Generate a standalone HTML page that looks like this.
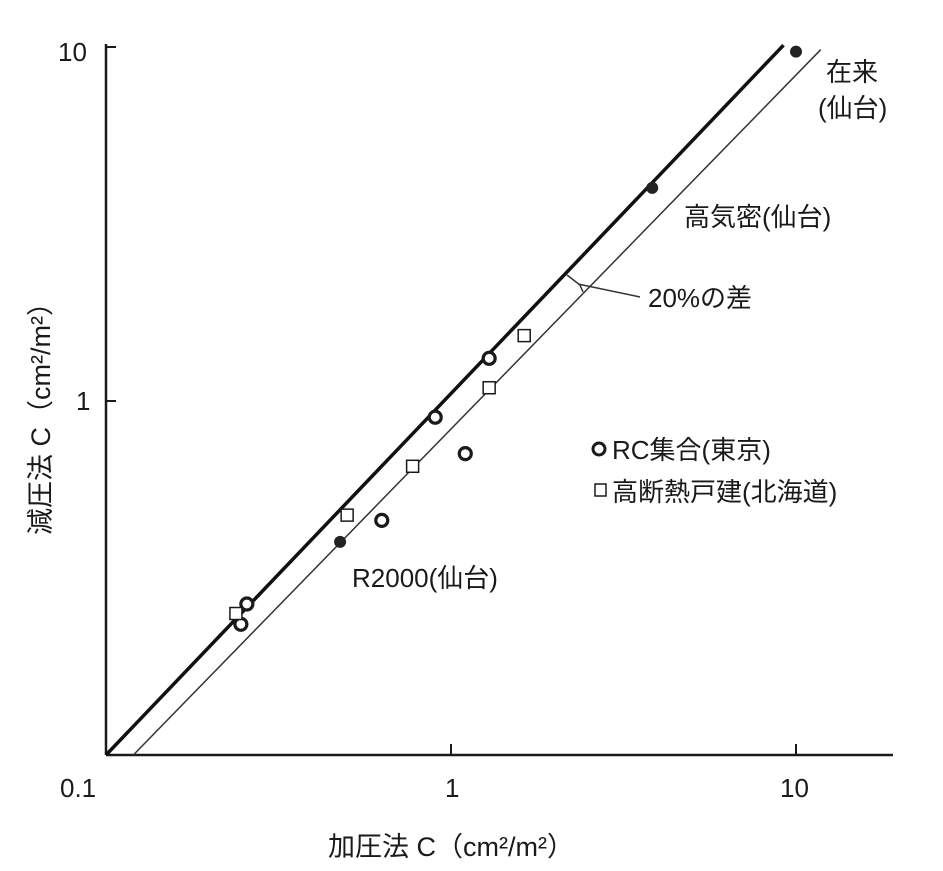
<!DOCTYPE html>
<html><head><meta charset="utf-8"><style>
body{margin:0;background:#fff}
svg text{font-family:"Liberation Sans","Noto Sans CJK JP",sans-serif;fill:#1a1a1a}
</style></head><body>
<svg width="943" height="866" viewBox="0 0 943 866">
<g id="axes"></g>
<g id="lines"></g>
<g id="marks"></g>
<text x="58" y="61" font-size="26">10</text>
<text x="76" y="410" font-size="26">1</text>
<text x="60" y="797" font-size="26">0.1</text>
<text x="445" y="797" font-size="26">1</text>
<text x="780" y="797" font-size="26">10</text>
<text x="328" y="856" font-size="27">加圧法 C（cm²/m²）</text>
<text transform="translate(50,535) rotate(-90)" font-size="27">減圧法 C（cm²/m²）</text>
<text x="826" y="81" font-size="26">在来</text>
<text x="818" y="117" font-size="26">(仙台)</text>
<text x="684" y="226" font-size="26">高気密(仙台)</text>
<text x="648" y="307" font-size="26">20%の差</text>
<text x="352" y="587" font-size="26">R2000(仙台)</text>
<circle cx="599" cy="449" r="6" fill="none" stroke="#1a1a1a" stroke-width="3"/>
<text x="612" y="459" font-size="26">RC集合(東京)</text>
<rect x="595" y="484" width="11" height="12" fill="#fff" stroke="#1a1a1a" stroke-width="1.5"/>
<text x="612" y="501" font-size="26">高断熱戸建(北海道)</text>
<path d="M567,275 L580,285 L583,292 M578,284 L640,297" fill="none" stroke="#333" stroke-width="1.5"/>
</svg>
<script>
const filledX=[10,3.83,0.477];
const filledY=[9.7,4.0,0.40];
const circleX=[0.246,0.256,0.63,0.90,1.10,1.29];
const circleY=[0.234,0.267,0.46,0.90,0.71,1.32];
const squareX=[0.238,0.50,0.774,1.29,1.63];
const squareY=[0.251,0.476,0.654,1.09,1.53];
const ratioThin=1.2;
const NS="http://www.w3.org/2000/svg";
function sx(v){return 106+345*Math.log10(v/0.1);}
function sy(v){return 755-354*Math.log10(v/0.1);}
function mk(t,a,p){const e=document.createElementNS(NS,t);for(const k in a)e.setAttribute(k,a[k]);p.appendChild(e);return e;}
const ax=document.getElementById('axes'),ln=document.getElementById('lines'),mg=document.getElementById('marks');
let e;
e=mk('line',{x1:106,y1:755,x2:893,y2:755,stroke:'#1a1a1a','stroke-width':2.5},ax);


e=mk('line',{x1:106,y1:755,x2:106,y2:44,stroke:'#1a1a1a','stroke-width':2.5},ax);


[1,10].forEach(v=>{
 e=mk('line',{x1:sx(v),y1:755,x2:sx(v),y2:744,stroke:'#1a1a1a','stroke-width':2},ax);
 
 
 e=mk('line',{x1:106,y1:sy(v),x2:116,y2:sy(v),stroke:'#1a1a1a','stroke-width':2},ax);
 
 
});
e=mk('line',{x1:sx(0.1),y1:sy(0.1),x2:sx(9.2),y2:sy(9.2*1.1),stroke:'#111','stroke-width':3.5},ln);


e=mk('line',{x1:sx(0.1*ratioThin),y1:sy(0.1),x2:sx(11.8),y2:sy(11.8/ratioThin),stroke:'#333','stroke-width':1.5},ln);


filledX.forEach((x,i)=>{
 e=mk('circle',{cx:sx(x),cy:sy(filledY[i]),r:6,fill:'#222'},mg);
 
 
});
circleX.forEach((x,i)=>{
 e=mk('circle',{cx:sx(x),cy:sy(circleY[i]),r:6,fill:'#fff',stroke:'#1a1a1a','stroke-width':3.2},mg);
 
 
});
squareX.forEach((x,i)=>{
 e=mk('rect',{x:sx(x)-6,y:sy(squareY[i])-6,width:12,height:12,fill:'#fff',stroke:'#1a1a1a','stroke-width':1.5},mg);
 
 
});
</script>
</body></html>
